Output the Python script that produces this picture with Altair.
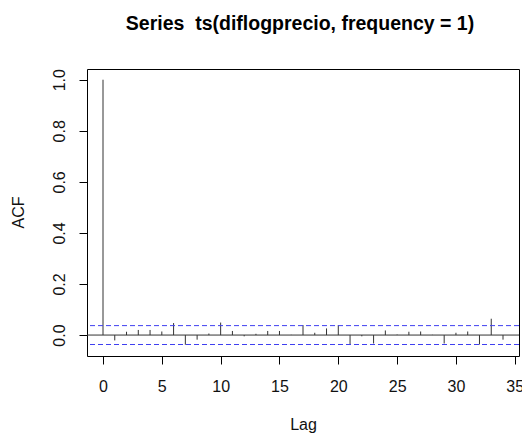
import altair as alt
import pandas as pd

# Sample autocorrelation of the differenced log price series, lags 0..34
lags = list(range(35))
acf_values = [1.0, -0.021, 0.013, 0.020, 0.020, 0.014, 0.047, -0.038, -0.018, 0.006,
              0.049, 0.016, -0.005, 0.005, 0.016, 0.016, 0.001, 0.039, 0.009, 0.026,
              0.039, -0.037, -0.005, -0.033, 0.018, 0.002, 0.013, 0.014, 0.001, -0.033,
              0.009, 0.014, -0.037, 0.064, -0.018]
# 95% confidence band for white noise
ci_bounds = [0.037, -0.037]
x_ticks = [0, 5, 10, 15, 20, 25, 30, 35]
y_ticks = [0.0, 0.2, 0.4, 0.6, 0.8, 1.0]

FONT = "Liberation Sans"

acf_df = pd.DataFrame({"lag": lags, "acf": acf_values})
ci_df = pd.DataFrame({"acf": ci_bounds})

x_scale = alt.Scale(domain=[-1.36, 35.36], nice=False, zero=False)
y_scale = alt.Scale(domain=[-0.082, 1.042], nice=False, zero=False)

y_axis = alt.Axis(values=y_ticks, format=".1f", grid=False,
                  tickSize=8, tickColor="#000", domain=False,
                  labelAngle=270, labelAlign="center", labelBaseline="bottom",
                  labelPadding=12, labelFontSize=16, labelFont=FONT,
                  labelColor="#111", titleFont=FONT, titleFontSize=16,
                  titleFontWeight="normal", titleColor="#111",
                  titleAngle=270, titleX=-69, titleY=143,
                  titleAlign="center", titleBaseline="middle")

bars = alt.Chart(acf_df).mark_rule(color="#333333", strokeWidth=1).encode(
    x=alt.X("lag:Q", scale=x_scale, title="Lag",
            axis=alt.Axis(values=x_ticks, format="d", grid=False,
                          tickSize=8, tickColor="#000", domain=False,
                          labelPadding=14, labelFontSize=16, labelFont=FONT,
                          labelColor="#111", titleFont=FONT, titleFontSize=16,
                          titleFontWeight="normal", titleColor="#111",
                          titleY=68, titleBaseline="middle")),
    y=alt.Y("acf:Q", scale=y_scale, title="ACF", axis=y_axis),
    y2=alt.datum(0),
)

zero_line = alt.Chart(acf_df).mark_rule(color="#333333", strokeWidth=1).encode(
    y=alt.Y("zero:Q", scale=y_scale, title="ACF", axis=y_axis)
).transform_calculate(zero="0").transform_filter("datum.lag == 0")

ci_lines = alt.Chart(ci_df).mark_rule(
    color="#3f3ff0", strokeWidth=1, strokeDash=[5, 3]
).encode(y=alt.Y("acf:Q", scale=y_scale, title="ACF", axis=y_axis))

chart = alt.layer(bars, zero_line, ci_lines).properties(
    width=432,
    height=287,
    background="white",
    title=alt.TitleParams("Series\u00a0 ts(diflogprecio, frequency = 1)", font=FONT,
                          fontSize=19.5, fontWeight="bold", color="#000",
                          anchor="middle", offset=34, dx=-3),
    autosize=alt.AutoSizeParams(type="none"),
    padding={"left": 87, "top": 69, "right": 3, "bottom": 79},
).configure_view(stroke="#000", strokeWidth=1)

chart.save("out.html", embed_options={"renderer": "svg", "actions": False})
